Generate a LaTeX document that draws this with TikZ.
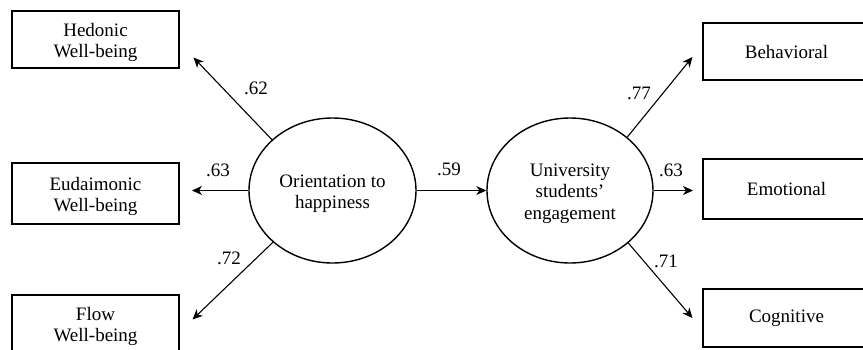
\documentclass[tikz,border=0pt]{standalone}
\usepackage{fontspec}
\setmainfont{Liberation Serif}
\usetikzlibrary{arrows.meta,shapes.geometric,calc}
\begin{document}
\begin{tikzpicture}[x=1pt,y=-1pt,
  every node/.style={font=\fontsize{19}{21.5}\selectfont},
  box/.style={draw,line width=1.1pt,rectangle,minimum width=167pt,inner sep=0pt,align=center},
  latent/.style={draw,line width=1.4pt,ellipse,minimum width=167pt,minimum height=145pt,inner sep=0pt,align=center},
  txt/.style={inner sep=0pt,align=center},
  coef/.style={inner sep=0pt},
  path/.style={line width=1.1pt,-{Stealth[length=10pt,width=9pt,inset=3pt]}}]
\clip (0,0) rectangle (863,349);
\fill[white] (0,0) rectangle (863,349);
% observed indicators, left
\node[box,minimum height=57pt] (hed) at (95.5,39.5) {};
\begin{scope}
  \clip (12,11) rectangle (179,60.5);
  \node[txt] at (hed) {\rule{0pt}{19pt}Hedonic\\Well-being};
\end{scope}
\node[box,minimum height=61pt] (eud) at (95.5,193.5) {\rule{0pt}{19pt}Eudaimonic\\Well-being};
\node[box,minimum height=57pt] (flo) at (95.5,323.5) {\rule{0pt}{19pt}Flow\\Well-being};
% observed indicators, right
\node[box,minimum height=57pt] (beh) at (786.5,51.5) {Behavioral};
\node[box,minimum height=60pt] (emo) at (786.5,189) {Emotional};
\node[box,minimum height=58pt] (cog) at (786.5,318) {Cognitive};
% latent variables
\node[latent] (oh) at (332.5,190.5) {\rule{0pt}{19pt}Orientation to\\happiness};
\node[latent,minimum width=166pt] (ue) at (570,190.5) {\rule{0pt}{19pt}University\\students’\\engagement};
% arrow tips (free ends)
\coordinate (thed) at ($(hed.south east)+(14,-11)$);
\coordinate (teud) at (192,190.5);
\coordinate (tflo) at ($(flo.north east)+(13,25)$);
\coordinate (tbeh) at ($(beh.west)+(-10,5.5)$);
\coordinate (temo) at (693,190.5);
\coordinate (tcog) at ($(cog.west)+(-10,0)$);
% paths
\draw[path] (oh.140) -- (thed);
\draw[path] (oh.west) -- (teud);
\draw[path] (oh.221) -- (tflo);
\draw[path] (oh.east) -- (ue.west);
\draw[path] (ue.43) -- (tbeh);
\draw[path] (ue.east) -- (temo);
\draw[path] (ue.318) -- (tcog);
% coefficients
\node[coef] (c1) at (256,88) {.62};
\node[coef] (c2) at (218,170) {.63};
\node[coef] (c3) at (229,258) {.72};
\node[coef] (c4) at (449,169) {.59};
\node[coef] (c5) at (639,93) {.77};
\node[coef] (c6) at (671,170) {.63};
\node[coef] (c7) at (666,261) {.71};
\end{tikzpicture}
\end{document}
